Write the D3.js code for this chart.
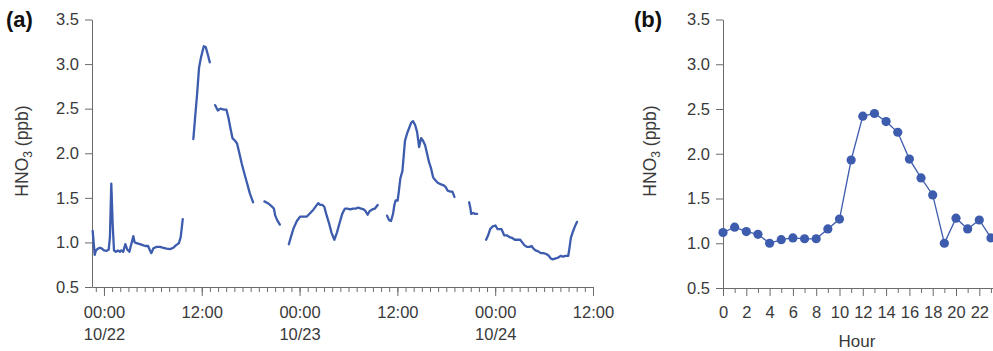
<!DOCTYPE html>
<html>
<head>
<meta charset="utf-8">
<script src="https://cdn.jsdelivr.net/npm/d3@7"></script>
<style>
  body { margin: 0; background: #fff; }
  svg { display: block; }
  text { font-family: "Liberation Sans", Arial, sans-serif; }
</style>
</head>
<body>
<svg id="chart" width="993" height="351"></svg>
<script>
// panel (a): hours after 10/22 00:00, HNO3 in ppb; gaps between segments are missing data
const segA1 = [[-1.39,1.13],[-1.14,0.86],[-0.98,0.91],[-0.74,0.93],[-0.49,0.94],[-0.25,0.93],[0,0.91],[0.33,0.905],
  [0.58,0.92],[0.74,1.06],[0.9,1.66],[1.07,1.21],[1.23,0.91],[1.47,0.895],[1.72,0.91],[1.97,0.895],[2.13,0.91],
  [2.37,0.895],[2.62,0.98],[2.86,0.92],[3.11,0.895],[3.35,0.98],[3.6,1.07],[3.77,1.0],[4.09,0.99],[4.42,0.98],
  [4.75,0.97],[5.07,0.96],[5.41,0.96],[5.65,0.91],[5.81,0.88],[6.06,0.935],[6.47,0.95],[6.88,0.95],[7.29,0.94],
  [7.7,0.93],[8.11,0.925],[8.51,0.94],[8.85,0.97],[9.18,0.99],[9.42,1.06],[9.67,1.26]];
const segA2 = [[10.97,2.16],[11.18,2.4],[11.43,2.67],[11.67,2.96],[11.92,3.08],[12.25,3.2],[12.49,3.19],
  [12.74,3.11],[12.99,3.02]];
const segA3 = [[13.64,2.54],[13.97,2.48],[14.29,2.5],[14.71,2.49],[15.02,2.49],[15.27,2.4],[15.52,2.28],
  [15.76,2.17],[16.09,2.14],[16.34,2.11],[16.58,2.01],[16.92,1.88],[17.24,1.77],[17.57,1.66],[17.9,1.55],[18.3,1.45]];
const segA4 = [[19.69,1.46],[20.11,1.44],[20.52,1.41],[20.85,1.38],[21.01,1.3],[21.25,1.25],[21.58,1.2]];
const segA5 = [[22.69,0.98],[22.94,1.06],[23.26,1.16],[23.67,1.24],[24.08,1.29],[24.48,1.29],[24.9,1.29],
  [25.31,1.33],[25.71,1.37],[26.04,1.41],[26.29,1.44],[26.54,1.42],[26.78,1.42],[27.03,1.4],[27.27,1.32],
  [27.6,1.22],[27.92,1.11],[28.26,1.03],[28.59,1.11],[28.91,1.22],[29.24,1.32],[29.57,1.38],[29.89,1.38],
  [30.22,1.37],[30.55,1.38],[30.87,1.38],[31.2,1.39],[31.54,1.38],[31.86,1.37],[32.1,1.35],[32.35,1.31],
  [32.59,1.35],[32.92,1.37],[33.25,1.38],[33.58,1.42]];
const segA6 = [[34.73,1.3],[34.98,1.25],[35.22,1.24],[35.47,1.32],[35.63,1.42],[35.79,1.47],[36.03,1.47],
  [36.2,1.59],[36.36,1.72],[36.61,1.8],[36.77,1.96],[36.94,2.14],[37.19,2.22],[37.43,2.28],[37.68,2.34],
  [37.92,2.36],[38.17,2.32],[38.41,2.24],[38.66,2.07],[38.91,2.17],[39.15,2.14],[39.4,2.09],[39.64,2.0],
  [39.89,1.9],[40.13,1.83],[40.38,1.73],[40.63,1.7],[40.95,1.67],[41.36,1.65],[41.68,1.64],[41.93,1.62],
  [42.17,1.58],[42.51,1.57],[42.75,1.57],[43.0,1.51]];
const segA7 = [[44.8,1.45],[44.96,1.38],[45.05,1.32],[45.3,1.33],[45.54,1.32],[45.79,1.32]];
const segA8 = [[46.89,1.03],[47.14,1.08],[47.38,1.15],[47.7,1.18],[48.03,1.19],[48.28,1.15],[48.53,1.15],
  [48.77,1.15],[49.1,1.08],[49.42,1.08],[49.75,1.06],[50.09,1.05],[50.41,1.03],[50.74,1.03],[51.07,1.03],
  [51.31,1.0],[51.56,0.97],[51.88,0.95],[52.21,0.95],[52.46,0.96],[52.7,0.93],[52.95,0.91],[53.28,0.9],
  [53.6,0.88],[53.93,0.88],[54.26,0.87],[54.58,0.85],[54.82,0.82],[55.07,0.81],[55.41,0.82],[55.74,0.83],
  [56.06,0.85],[56.3,0.84],[56.63,0.85],[56.97,0.85],[57.13,0.95],[57.29,1.05],[57.53,1.12],[57.78,1.18],[58.03,1.23]];
const segmentsA = [segA1, segA2, segA3, segA4, segA5, segA6, segA7, segA8];

// major tick labels of panel (a), hours after 10/22 00:00
const majorHours = [0, 12, 24, 36, 48, 60];
const majorTimeLabels = ["00:00", "12:00", "00:00", "12:00", "00:00", "12:00"];
const majorDateLabels = ["10/22", "", "10/23", "", "10/24", ""];

// panel (b): mean diurnal cycle
const hoursB = d3.range(0, 24);
const valuesB = [1.12, 1.18, 1.13, 1.1, 1.0, 1.04, 1.06, 1.05, 1.05, 1.16, 1.27, 1.93, 2.42, 2.45, 2.36, 2.24,
  1.94, 1.73, 1.54, 1.0, 1.28, 1.16, 1.26, 1.06];
const hourTickLabels = [0, 2, 4, 6, 8, 10, 12, 14, 16, 18, 20, 22];

const yTicks = [0.5, 1.0, 1.5, 2.0, 2.5, 3.0, 3.5];

const blue = "#3d5cae";
const axisColor = "#6b6b6b";
const textColor = "#3a3a3a";
const tickFont = "16.5px";

const svg = d3.select("#chart");

const day0 = new Date(2019, 9, 22, 0, 0);
const toDate = h => d3.timeMinute.offset(day0, Math.round(h * 60));

function yLabel(x, y) {
  const t = svg.append("text")
    .attr("transform", `translate(${x},${y}) rotate(-90)`)
    .attr("text-anchor", "middle")
    .attr("fill", textColor)
    .style("font-size", "17.5px");
  t.append("tspan").text("HNO");
  t.append("tspan").attr("dy", 4).style("font-size", "12px").text("3");
  t.append("tspan").attr("dy", -4).text(" (ppb)");
}

function styleAxis(g) {
  g.selectAll("path, line").attr("stroke", axisColor).attr("stroke-width", 1);
  g.selectAll("text").attr("fill", textColor).style("font-size", tickFont)
    .style("font-family", '"Liberation Sans", Arial, sans-serif');
}

// ---------- panel (a)
const xA = d3.scaleTime()
  .domain([toDate(-1.47), toDate(60)])
  .range([92, 593]);
const yA = d3.scaleLinear().domain([0.5, 3.5]).range([287, 19.5]);

svg.append("g")
  .attr("transform", "translate(92,0)")
  .call(d3.axisLeft(yA).tickValues(yTicks).tickFormat(d3.format(".1f")).tickSize(7).tickPadding(6).tickSizeOuter(0))
  .call(styleAxis);

svg.append("g")
  .attr("transform", "translate(0,287)")
  .call(d3.axisBottom(xA)
    .tickValues(d3.timeHour.range(d3.timeHour.ceil(toDate(-1.47)), toDate(60.01)))
    .tickSize(5).tickSizeOuter(0).tickFormat(""))
  .call(styleAxis);

const majorA = svg.append("g")
  .attr("transform", "translate(0,287)")
  .call(d3.axisBottom(xA).tickValues(majorHours.map(toDate)).tickSize(9).tickFormat(""))
  .call(styleAxis);
majorA.select(".domain").remove();
majorA.selectAll(".tick").each(function(d, i) {
  const t = d3.select(this).append("text")
    .attr("text-anchor", "middle").attr("fill", textColor).style("font-size", tickFont);
  t.append("tspan").attr("x", 0).attr("y", 31).text(majorTimeLabels[i]);
  if (majorDateLabels[i]) t.append("tspan").attr("x", 0).attr("y", 53).text(majorDateLabels[i]);
});

const lineA = d3.line().x(d => xA(toDate(d[0]))).y(d => yA(d[1]));
svg.append("g").selectAll("path")
  .data(segmentsA)
  .join("path")
  .attr("d", lineA)
  .attr("fill", "none")
  .attr("stroke", blue)
  .attr("stroke-width", 2.3)
  .attr("stroke-linejoin", "round")
  .attr("stroke-linecap", "round");

yLabel(28, 151);
svg.append("text").attr("x", 6).attr("y", 27).attr("fill", "#111")
  .style("font-size", "22px").style("font-weight", "bold").text("(a)");

// ---------- panel (b)
const xB = d3.scaleLinear().domain([0, 24]).range([723, 1002.6]);
const yB = d3.scaleLinear().domain([0.5, 3.5]).range([288, 19.5]);

svg.append("g")
  .attr("transform", "translate(723,0)")
  .call(d3.axisLeft(yB).tickValues(yTicks).tickFormat(d3.format(".1f")).tickSize(7).tickPadding(6).tickSizeOuter(0))
  .call(styleAxis);

svg.append("g")
  .attr("transform", "translate(0,288)")
  .call(d3.axisBottom(xB).tickValues(d3.range(0, 25).filter(h => h % 2)).tickSize(5).tickSizeOuter(0).tickFormat(""))
  .call(styleAxis);

const majorB = svg.append("g")
  .attr("transform", "translate(0,288)")
  .call(d3.axisBottom(xB).tickValues(hourTickLabels).tickSize(8))
  .call(styleAxis);
majorB.select(".domain").remove();
majorB.selectAll("text").attr("y", 30).attr("dy", 0);

svg.append("path")
  .datum(hoursB.map((h, i) => [h, valuesB[i]]))
  .attr("d", d3.line().x(d => xB(d[0])).y(d => yB(d[1])))
  .attr("fill", "none")
  .attr("stroke", blue)
  .attr("stroke-width", 1.3);

svg.append("g").selectAll("circle")
  .data(hoursB)
  .join("circle")
  .attr("cx", d => xB(d))
  .attr("cy", (d, i) => yB(valuesB[i]))
  .attr("r", 4.6)
  .attr("fill", blue);

yLabel(656, 151);
svg.append("text").attr("x", 634).attr("y", 27).attr("fill", "#111")
  .style("font-size", "22px").style("font-weight", "bold").text("(b)");

svg.append("text").attr("x", 857).attr("y", 347).attr("text-anchor", "middle")
  .attr("fill", textColor).style("font-size", "17px").text("Hour");
</script>
</body>
</html>
